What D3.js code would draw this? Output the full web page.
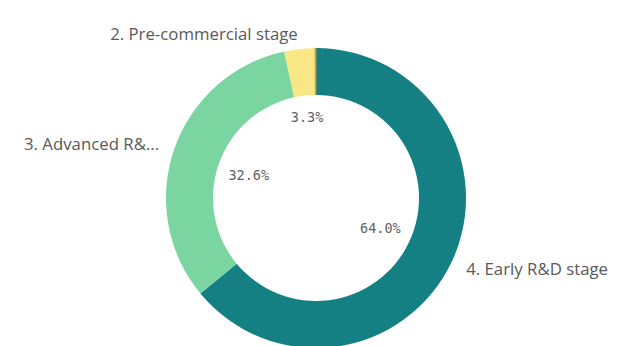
<!DOCTYPE html>
<html>
<head>
<meta charset="utf-8">
<script src="https://cdn.jsdelivr.net/npm/d3@7"></script>
<style>
  html, body { margin: 0; padding: 0; background: #ffffff; }
  svg { display: block; }
</style>
</head>
<body>
<svg id="chart" width="620" height="346"></svg>
<script>
// Development stage breakdown (share of total, %)
const categories = ["4. Early R&D stage", "3. Advanced R&D stage", "2. Pre-commercial stage", "1. Commercial stage"];
const shares = [64.0, 32.6, 3.3, 0.1];
const colors = ["#148084", "#7bd5a0", "#f8e784", "#d9903a"];

const width = 620, height = 346;
const cx = 316, cy = 198;
const outerR = 150, innerR = 103;
const labelR = 166;
const sideLabelMax = 146;

const svg = d3.select("#chart");
const g = svg.append("g").attr("transform", `translate(${cx},${cy})`);

const data = categories.map((c, i) => ({ name: c, value: shares[i], color: colors[i] }));

const pie = d3.pie().value(d => d.value).sort(null);
const arc = d3.arc().innerRadius(innerR).outerRadius(outerR);
const arcs = pie(data);

g.selectAll("path.slice")
  .data(arcs)
  .join("path")
  .attr("class", "slice")
  .attr("d", arc)
  .attr("fill", d => d.data.color)
  .attr("stroke", d => d.data.value < 1 ? d.data.color : "none")
  .attr("stroke-width", 0.8);

const mid = d => (d.startAngle + d.endAngle) / 2;

// Value labels inside the hole, pushed toward the ring
const valueLabels = g.selectAll("text.value")
  .data(arcs.filter(d => d.data.value >= 1))
  .join("text")
  .attr("class", "value")
  .attr("font-family", "'DejaVu Sans Mono', monospace")
  .attr("font-size", 13.5)
  .attr("fill", "#5f5f5f")
  .attr("text-anchor", "middle")
  .attr("dominant-baseline", "central")
  .text(d => d3.format(".1f")(d.data.value) + "%");

valueLabels.each(function(d) {
  const bb = this.getBBox();
  const hw = bb.width / 2, hh = bb.height / 2;
  const a = mid(d), dx = Math.sin(a), dy = -Math.cos(a);
  const limit = innerR - 10;
  let lo = 0, hi = innerR;
  for (let k = 0; k < 40; k++) {
    const r = (lo + hi) / 2;
    const px = r * dx + Math.sign(dx) * hw;
    const py = r * dy + Math.sign(dy) * hh;
    if (Math.hypot(px, py) > limit) hi = r; else lo = r;
  }
  d3.select(this).attr("x", lo * dx).attr("y", lo * dy);
});

// Category labels outside the ring
g.selectAll("text.cat")
  .data(arcs.filter(d => d.data.value >= 1))
  .join("text")
  .attr("class", "cat")
  .attr("font-family", "'Open Sans', sans-serif")
  .attr("font-size", 16.8)
  .attr("fill", "#595959")
  .attr("dominant-baseline", "central")
  .attr("text-anchor", d => Math.sin(mid(d)) < 0 ? "end" : "start")
  .attr("x", d => labelR * Math.sin(mid(d)))
  .attr("y", d => -labelR * Math.cos(mid(d)))
  .text(d => d.data.name)
  .each(function(d) {
    // Shorten side labels that run too long
    if (Math.abs(Math.sin(mid(d))) < 0.5) return;
    const el = d3.select(this);
    let s = d.data.name;
    if (this.getComputedTextLength() <= sideLabelMax) return;
    while (s.length > 1) {
      s = s.slice(0, -1);
      el.text(s.trimEnd() + "...");
      if (this.getComputedTextLength() <= sideLabelMax) break;
    }
  });
</script>
</body>
</html>
